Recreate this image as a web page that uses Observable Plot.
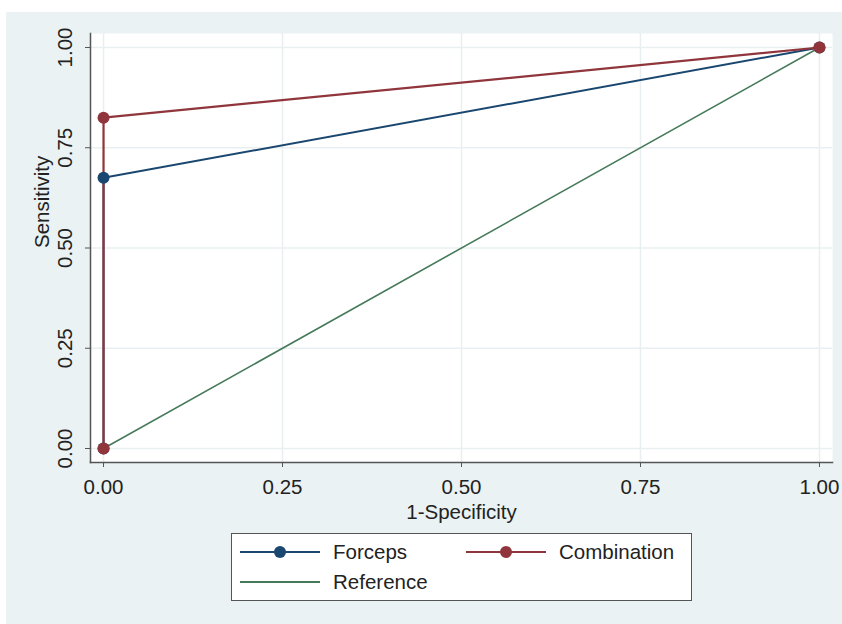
<!DOCTYPE html>
<html>
<head>
<meta charset="utf-8">
<script src="https://cdn.jsdelivr.net/npm/d3@7"></script>
<script src="https://cdn.jsdelivr.net/npm/@observablehq/plot@0.6"></script>
<style>
  html, body { margin: 0; padding: 0; background: #ffffff; }
  body { width: 842px; height: 624px; position: relative; overflow: hidden; font-family: "Liberation Sans", Arial, sans-serif; }
  #graph { position: absolute; left: 6px; top: 12px; width: 836px; height: 612px; background: #eaf2f3; }
  #chart { position: absolute; left: 0; top: 0; }
  #legend { position: absolute; left: 225px; top: 521px; width: 461px; height: 68px; background: #fff; border: 1.5px solid #555; box-sizing: border-box; }
  .item { position: absolute; display: flex; align-items: center; font-size: 20.5px; color: #222; }
  .item svg { margin-right: 13px; }
</style>
</head>
<body>
<div id="graph">
  <div id="chart"></div>
  <div id="legend"></div>
</div>
<script>
// ---- data ----
const fpr = [0, 0, 1];
const forcepsSens = [0, 0.675, 1];
const combinationSens = [0, 0.825, 1];
const referenceFpr = [0, 1];
const referenceSens = [0, 1];
const ticks = [0, 0.25, 0.5, 0.75, 1];
const tickLabels = ["0.00", "0.25", "0.50", "0.75", "1.00"];
const xTitle = "1-Specificity";
const yTitle = "Sensitivity";
const seriesNames = ["Forceps", "Combination", "Reference"];
const seriesColors = ["#1a476f", "#90353b", "#467a5a"];

const forceps = fpr.map((x, i) => ({x, y: forcepsSens[i]}));
const combination = fpr.map((x, i) => ({x, y: combinationSens[i]}));
const reference = referenceFpr.map((x, i) => ({x, y: referenceSens[i]}));
const fmt = d => tickLabels[ticks.indexOf(d)];

const chart = Plot.plot({
  width: 836,
  height: 520,
  marginLeft: 84,
  marginRight: 10,
  marginTop: 21,
  marginBottom: 70,
  style: { background: "transparent", fontFamily: "Liberation Sans, Arial, sans-serif", fontSize: "20.5px", color: "#222" },
  x: { domain: [-0.0182, 1.0182] },
  y: { domain: [-0.0349, 1.0349] },
  marks: [
    Plot.frame({ fill: "#ffffff", stroke: null }),
    Plot.gridX(ticks, { stroke: "#e9eff0", strokeOpacity: 1, strokeWidth: 1.5 }),
    Plot.gridY(ticks, { stroke: "#e9eff0", strokeOpacity: 1, strokeWidth: 1.5 }),
    Plot.frame({ anchor: "left", stroke: "#555", strokeWidth: 1.5 }),
    Plot.frame({ anchor: "bottom", stroke: "#555", strokeWidth: 1.5 }),
    Plot.axisX(ticks, { tickFormat: fmt, tickSize: 5, tickPadding: 12, fontSize: 20.5, stroke: "#555", label: null }),
    Plot.axisY(ticks, { tickFormat: fmt, tickSize: 5, tickPadding: 14, fontSize: 20.5, stroke: "#555", tickRotate: -90, label: null }),
    Plot.text([xTitle], { frameAnchor: "bottom", text: d => d, dy: 56, fontSize: 20.5, fill: "#222" }),
    Plot.text([yTitle], { frameAnchor: "left", text: d => d, rotate: -90, dx: -48, fontSize: 20.5, fill: "#222" }),
    Plot.line(forceps, { x: "x", y: "y", stroke: seriesColors[0], strokeWidth: 2 }),
    Plot.line(combination, { x: "x", y: "y", stroke: seriesColors[1], strokeWidth: 2.2 }),
    Plot.line(reference, { x: "x", y: "y", stroke: seriesColors[2], strokeWidth: 1.6 }),
    Plot.dot(forceps, { x: "x", y: "y", fill: seriesColors[0], r: 6 }),
    Plot.dot(combination, { x: "x", y: "y", fill: seriesColors[1], r: 6 })
  ]
});
chart.querySelectorAll("text").forEach(t => t.setAttribute("fill", "#222"));
document.getElementById("chart").appendChild(chart);

// ---- legend ----
const legend = document.getElementById("legend");
const pos = [[8, 6], [234, 6], [8, 36]];
seriesNames.forEach((name, i) => {
  const d = document.createElement("div");
  d.className = "item";
  d.style.left = pos[i][0] + "px";
  d.style.top = pos[i][1] + "px";
  const marker = i < 2 ? `<circle cx="40" cy="12" r="6" fill="${seriesColors[i]}"/>` : "";
  d.innerHTML = `<svg width="80" height="24"><line x1="0" y1="12" x2="80" y2="12" stroke="${seriesColors[i]}" stroke-width="2"/>${marker}</svg><span>${name}</span>`;
  legend.appendChild(d);
});
</script>
</body>
</html>
